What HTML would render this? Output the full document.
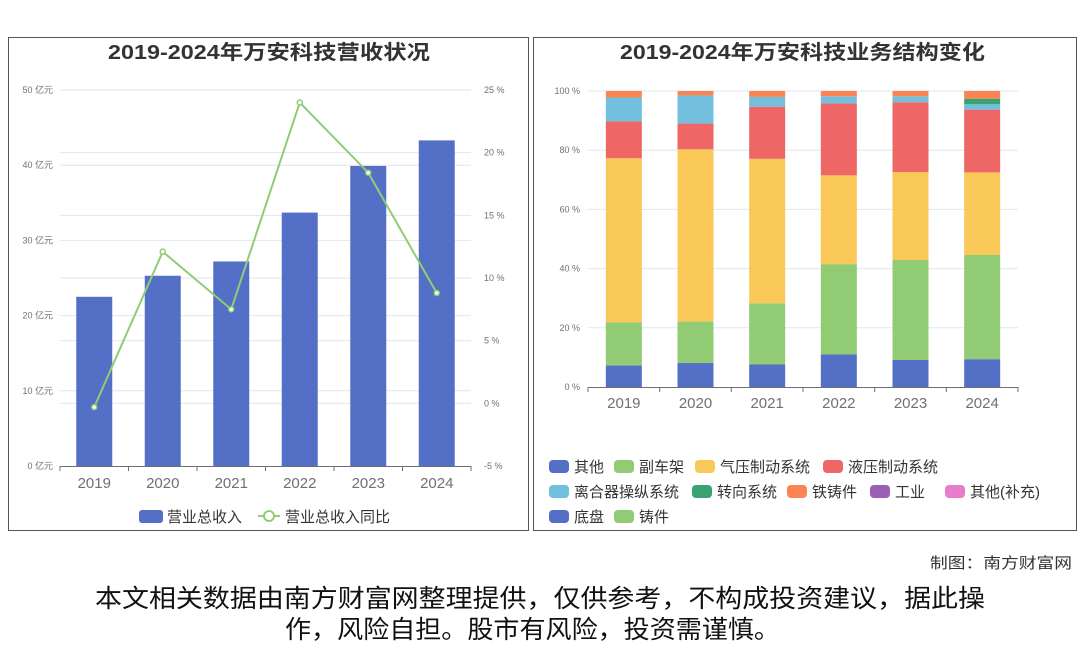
<!DOCTYPE html>
<html><head><meta charset="utf-8"><style>
body{margin:0;background:#fff;width:1080px;height:646px;overflow:hidden;font-family:"Liberation Sans","Noto Sans CJK SC",sans-serif}
svg text{font-family:"Liberation Sans","Noto Sans CJK SC",sans-serif}
</style></head><body>
<svg id="s" width="1080" height="646" xmlns="http://www.w3.org/2000/svg">
<rect x="8.5" y="37.5" width="520" height="493" fill="none" stroke="#555"/>
<rect x="533.5" y="37.5" width="543" height="493" fill="none" stroke="#555"/>
<text x="108" y="59" textLength="322" lengthAdjust="spacingAndGlyphs" font-size="20" font-weight="bold" fill="#333">2019-2024年万安科技营收状况</text>
<text x="620" y="59" textLength="365" lengthAdjust="spacingAndGlyphs" font-size="20" font-weight="bold" fill="#333">2019-2024年万安科技业务结构变化</text>
<g id="L"></g><g id="R"></g>
<g>
<rect x="139" y="510" width="24" height="13" rx="3" fill="#5470c6"/>
<text x="167" y="522" font-size="15" fill="#333">营业总收入</text>
<line x1="258" y1="516" x2="280" y2="516" stroke="#91cc75" stroke-width="2"/>
<circle cx="269" cy="516" r="5" fill="#fff" stroke="#91cc75" stroke-width="2"/>
<text x="285" y="522" font-size="15" fill="#333">营业总收入同比</text>
</g>
<g id="RL"></g>
<text x="930" y="568" textLength="142" lengthAdjust="spacingAndGlyphs" font-size="15" fill="#333">制图：南方财富网</text>
<text x="95" y="607" textLength="890" lengthAdjust="spacingAndGlyphs" font-size="25" fill="#111">本文相关数据由南方财富网整理提供，仅供参考，不构成投资建议，据此操</text>
<text x="285" y="638" textLength="495" lengthAdjust="spacingAndGlyphs" font-size="25" fill="#111">作，风险自担。股市有风险，投资需谨慎。</text>
</svg>
<script>
const years=['2019','2020','2021','2022','2023','2024'];
const revenue=[22.5,25.3,27.2,33.7,39.9,43.3];
const yoy=[-0.3,12.1,7.5,24.0,18.4,8.8];
const leftTicks=[0,10,20,30,40,50];
const rightTicks=[-5,0,5,10,15,20,25];
const segNames=['其他','副车架','气压制动系统','液压制动系统','离合器操纵系统','转向系统','铁铸件','工业','其他(补充)','底盘','铸件'];
const segColors=['#5470c6','#91cc75','#fac858','#ee6666','#73c0de','#3ba272','#fc8452','#9a60b4','#ea7ccc','#5470c6','#91cc75'];
const s0=[7.3,8.1,7.6,11.0,9.2,9.4];
const s1=[14.6,14.0,20.7,30.5,33.7,35.2];
const s2=[55.4,58.2,48.8,30.0,29.7,27.9];
const s3=[12.4,8.7,17.6,24.3,23.6,21.2];
const s4=[8.1,9.5,3.3,2.4,2.0,1.8];
const s5=[0,0,0,0,0,1.9];
const s6=[2.2,1.5,2.0,1.8,1.8,2.6];
const s7=[0,0,0,0,0,0];
const s8=[0,0,0,0,0,0];
const s9=[0,0,0,0,0,0];
const s10=[0,0,0,0,0,0];
const pctTicks=[0,20,40,60,80,100];
const NS='http://www.w3.org/2000/svg';
function mk(p,t,a){const e=document.createElementNS(NS,t);for(const k in a)e.setAttribute(k,a[k]);p.appendChild(e);return e;}
const L=document.getElementById('L');
const lx0=60,lx1=471,ly0=466,ly1=90;
const bw=(lx1-lx0)/years.length;
const yL=v=>ly0-(v-0)/50*(ly0-ly1);
const yR=v=>ly0-(v+5)/30*(ly0-ly1);
const xc=i=>lx0+bw*(i+0.5);
leftTicks.forEach(t=>{
 if(t>0){const g=mk(L,'line',{x1:lx0,x2:lx1,y1:yL(t),y2:yL(t),stroke:'#e0e6f1'});
 
 }
 const tx=mk(L,'text',{x:53,y:yL(t)+3,'text-anchor':'end','font-size':9,fill:'#6e7079'});tx.textContent=t+' 亿元';
 
 
});
rightTicks.forEach(t=>{
 if(t>-5){const g=mk(L,'line',{x1:lx0,x2:lx1,y1:yR(t),y2:yR(t),stroke:'#e0e6f1'});
 
 }
 const tx=mk(L,'text',{x:484,y:yR(t)+3,'font-size':9,fill:'#6e7079'});tx.textContent=t+' %';
 
 
});
revenue.forEach((v,i)=>{
 const r=mk(L,'rect',{x:xc(i)-18,y:yL(v),width:36,height:ly0-yL(v),fill:'#5470c6'});
 
 
});
const ax=mk(L,'line',{x1:lx0,x2:lx1,y1:ly0+.5,y2:ly0+.5,stroke:'#6e7079'});


years.forEach((y,i)=>{
 mk(L,'line',{x1:lx0+bw*i,x2:lx0+bw*i,y1:ly0,y2:ly0+5,stroke:'#6e7079'});
 const tx=mk(L,'text',{x:xc(i),y:488,'text-anchor':'middle','font-size':15,fill:'#6e7079'});tx.textContent=y;
 
 
});
mk(L,'line',{x1:lx1,x2:lx1,y1:ly0,y2:ly0+5,stroke:'#6e7079'});
const pl=mk(L,'polyline',{points:yoy.map((v,i)=>xc(i)+','+yR(v)).join(' '),fill:'none',stroke:'#91cc75','stroke-width':2});


yoy.forEach((v,i)=>{
 const c=mk(L,'circle',{cx:xc(i),cy:yR(v),r:2.5,fill:'#fff',stroke:'#91cc75','stroke-width':1.5});
 
 
});
const R=document.getElementById('R');
const rx0=588,rx1=1018,ry0=387,ry1=91;
const rbw=(rx1-rx0)/years.length;
const yP=v=>ry0-v/100*(ry0-ry1);
const rxc=i=>rx0+rbw*(i+0.5);
pctTicks.forEach(t=>{
 if(t>0){const g=mk(R,'line',{x1:rx0,x2:rx1,y1:yP(t),y2:yP(t),stroke:'#e0e6f1'});
 
 }
 const tx=mk(R,'text',{x:580,y:yP(t)+3,'text-anchor':'end','font-size':9,fill:'#6e7079'});tx.textContent=t+' %';
 
 
});
const series=[s0,s1,s2,s3,s4,s5,s6,s7,s8,s9,s10];
years.forEach((y,i)=>{
 let cum=0;
 series.forEach((s,k)=>{
  const v=s[i];if(v<=0)return;
  const r=mk(R,'rect',{x:rxc(i)-18,y:yP(cum+v),width:36,height:yP(cum)-yP(cum+v),fill:segColors[k]});
  
  
  cum+=v;
 });
});
const rax=mk(R,'line',{x1:rx0,x2:rx1,y1:ry0+.5,y2:ry0+.5,stroke:'#6e7079'});


years.forEach((y,i)=>{
 mk(R,'line',{x1:rx0+rbw*i,x2:rx0+rbw*i,y1:ry0,y2:ry0+5,stroke:'#6e7079'});
 const tx=mk(R,'text',{x:rxc(i),y:408,'text-anchor':'middle','font-size':15,fill:'#6e7079'});tx.textContent=y;
 
 
});
mk(R,'line',{x1:rx1,x2:rx1,y1:ry0,y2:ry0+5,stroke:'#6e7079'});
const RL=document.getElementById('RL');
const legPos=[[549,466],[614,466],[695,466],[823,466],[549,491],[692,491],[787,491],[870,491],[945,491],[549,516],[614,516]];
segNames.forEach((n,k)=>{
 const [x,y]=legPos[k];
 const r=mk(RL,'rect',{x:x,y:y-6,width:20,height:13,rx:4,fill:segColors[k]});
 
 
 const t=mk(RL,'text',{x:x+25,y:y+6,'font-size':15,fill:'#333'});t.textContent=n;
 
 
});
</script>
</body></html>
